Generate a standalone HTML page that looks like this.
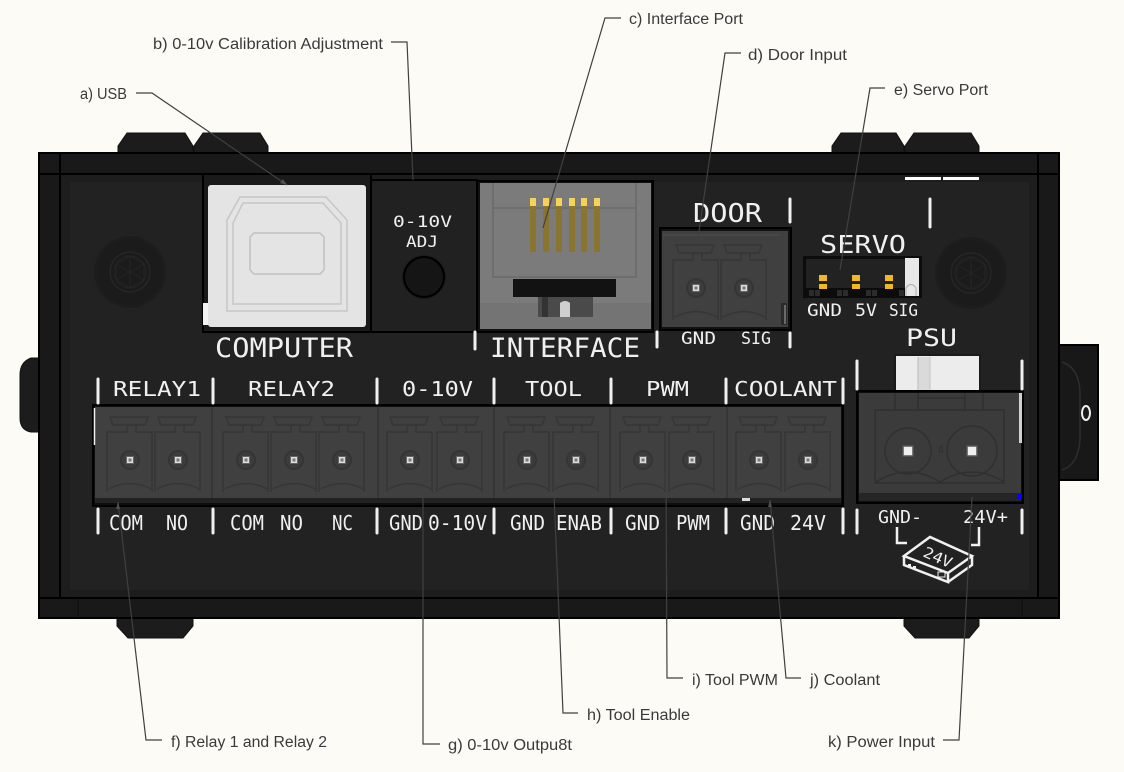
<!DOCTYPE html>
<html><head><meta charset="utf-8">
<style>
html,body{margin:0;padding:0;background:#fdfbf6;}
svg{display:block;}
.lbl{font-family:"Liberation Sans",sans-serif;font-size:15.5px;fill:#3a3a3a;}
.w{font-family:"DejaVu Sans Mono","Liberation Mono",monospace;fill:#f0f0f0;}
</style></head><body>
<svg width="1124" height="772" viewBox="0 0 1124 772" xmlns="http://www.w3.org/2000/svg">
<defs>
<g id="t">
 <g fill="none" stroke="#363636" stroke-width="1.5">
  <path d="M-20,-43 H18 L15,-35 H-17 Z"/>
  <path d="M-3,-35 V-28 H-23 V32 M6,-35 V-28 H22 V32"/>
  <path d="M-21,29 Q0,18 21,29"/>
 </g>
 <circle r="9" fill="#3c3c3c" stroke="#353535" stroke-width="2"/>
 <rect x="-3.5" y="-3.5" width="7" height="7" fill="#dcdcdc" stroke="#666" stroke-width="1"/>
 <rect x="-1.5" y="-1.5" width="3" height="3" fill="#777"/>
</g>
<g id="scr">
 <circle r="36" fill="#1d1d1d"/>
 <circle r="33" fill="#1b1b1b"/>
 <circle r="20" fill="none" stroke="#262626" stroke-width="1.5"/>
 <circle r="16" fill="none" stroke="#242424" stroke-width="1"/>
 <path d="M0,-16 L14,-8 L14,8 L0,16 L-14,8 L-14,-8 Z M0,-16 V16 M-14,-8 L14,8 M14,-8 L-14,8" fill="none" stroke="#252525" stroke-width="1"/>
</g>
</defs>
<rect width="1124" height="772" fill="#fdfbf6"/>

<!-- feet -->
<g fill="#1c1c1c" stroke="#111" stroke-width="1">
<path d="M118,154 V146 L127,133 H185 L193,146 V154 Z"/>
<path d="M194,154 V146 L203,133 H260 L268,146 V154 Z"/>
<path d="M832,154 V146 L841,133 H896 L904,146 V154 Z"/>
<path d="M905,154 V146 L914,133 H971 L979,146 V154 Z"/>
<path d="M117,617 V626 L128,638 H183 L193,626 V617 Z"/>
<path d="M904,617 V626 L915,638 H969 L979,626 V617 Z"/>
<path d="M40,358 H31 Q20,362 20,375 V418 Q20,430 31,432 H40 Z"/>
</g>
<rect x="1058" y="345" width="40" height="135" fill="#181818" stroke="#000" stroke-width="2"/>
<path d="M1062,362 Q1080,368 1080,395 V440 Q1078,465 1062,470" fill="none" stroke="#2e2e2e" stroke-width="1.5"/>
<ellipse cx="1086" cy="413" rx="4" ry="7" fill="none" stroke="#f0f0f0" stroke-width="2"/>

<!-- body -->
<rect x="39" y="153" width="1020" height="465" fill="#191919" stroke="#000" stroke-width="2"/>
<rect x="61" y="175" width="976" height="422" fill="#1d1d1d"/>
<rect x="70" y="182" width="959" height="408" fill="#222"/>
<g stroke="#000" stroke-width="2">
<line x1="39" y1="174" x2="1059" y2="174"/>
<line x1="60" y1="153" x2="60" y2="598"/>
<line x1="1038" y1="153" x2="1038" y2="598"/>
<line x1="39" y1="598" x2="1059" y2="598"/>
</g>
<line x1="78" y1="598" x2="78" y2="618" stroke="#0a0a0a" stroke-width="1"/>
<line x1="1022" y1="598" x2="1022" y2="618" stroke="#0a0a0a" stroke-width="1"/>
<rect x="905" y="177" width="36" height="3" fill="#fff"/>
<rect x="943" y="177" width="36" height="3" fill="#fff"/>

<use href="#scr" x="130" y="272"/>
<use href="#scr" x="971" y="273"/>

<!-- USB -->
<rect x="203" y="174" width="168" height="158" fill="#1a1a1a" stroke="#000" stroke-width="2"/>
<rect x="203" y="303" width="6" height="22" fill="#f4f4f4"/>
<rect x="208" y="185" width="158" height="142" rx="3" fill="#e4e4e4"/>
<path d="M240,197 H326 L347,220 V311 H227 V220 Z" fill="none" stroke="#c6c6c6" stroke-width="1.5"/>
<path d="M243,203 H323 L341,223 V304 H233 V223 Z" fill="none" stroke="#c6c6c6" stroke-width="1.5"/>
<path d="M254,233 H320 L324,237 V270 L320,274 H254 L250,270 V237 Z" fill="none" stroke="#c0c0c0" stroke-width="1.5"/>
<text class="w" x="215" y="357" font-size="27" textLength="138" lengthAdjust="spacingAndGlyphs">COMPUTER</text>

<!-- ADJ -->
<rect x="371" y="180" width="106" height="152" fill="#212121" stroke="#000" stroke-width="2"/>
<text class="w" x="393" y="227" font-size="16" textLength="59" lengthAdjust="spacingAndGlyphs">0-10V</text>
<text class="w" x="406" y="247" font-size="16" textLength="32" lengthAdjust="spacingAndGlyphs">ADJ</text>
<circle cx="424" cy="277" r="22" fill="#1a1a1a"/>
<circle cx="424" cy="277" r="20" fill="#151515" stroke="#000" stroke-width="2"/>

<!-- INTERFACE -->
<rect x="477" y="181" width="176" height="151" fill="#111" stroke="#000" stroke-width="2"/>
<rect x="480" y="183" width="171" height="146" fill="#7b7b7b"/>
<rect x="480" y="303" width="171" height="26" fill="#747474"/>
<g stroke="#6a6a6a" stroke-width="1.5" fill="none">
<path d="M493,183 V277 H636 V183"/>
<line x1="493" y1="208" x2="636" y2="208"/>
</g>
<g>
<rect x="530" y="206" width="6" height="46" fill="#8a7530"/><rect x="530" y="198" width="6" height="8" fill="#f5d35a"/>
<rect x="543" y="206" width="6" height="46" fill="#8a7530"/><rect x="543" y="198" width="6" height="8" fill="#f5d35a"/>
<rect x="556" y="206" width="6" height="46" fill="#8a7530"/><rect x="556" y="198" width="6" height="8" fill="#f5d35a"/>
<rect x="569" y="206" width="6" height="46" fill="#8a7530"/><rect x="569" y="198" width="6" height="8" fill="#f5d35a"/>
<rect x="581" y="206" width="6" height="46" fill="#8a7530"/><rect x="581" y="198" width="6" height="8" fill="#f5d35a"/>
<rect x="594" y="206" width="6" height="46" fill="#8a7530"/><rect x="594" y="198" width="6" height="8" fill="#f5d35a"/>
</g>
<rect x="513" y="279" width="103" height="18" fill="#121212"/>
<rect x="538" y="297" width="55" height="20" fill="#4a4a4a"/>
<rect x="542" y="297" width="6" height="20" fill="#333"/>
<path d="M560,317 V303 Q565,299 570,303 V317 Z" fill="#cfcfcf"/>
<text class="w" x="490" y="357" font-size="27" textLength="150" lengthAdjust="spacingAndGlyphs">INTERFACE</text>

<!-- DOOR -->
<text class="w" x="693" y="222" font-size="26" textLength="69" lengthAdjust="spacingAndGlyphs">DOOR</text>
<rect x="660" y="228" width="131" height="102" fill="#111" stroke="#000" stroke-width="2"/>
<rect x="662" y="231" width="126" height="96" fill="#404040"/>
<line x1="663" y1="235" x2="780" y2="235" stroke="#4a4a4a" stroke-width="1.5"/>
<rect x="781" y="303" width="6" height="22" fill="#2a2a2a"/>
<line x1="785" y1="305" x2="785" y2="324" stroke="#aaa" stroke-width="1"/>
<use href="#t" x="696" y="288"/>
<use href="#t" x="744" y="288"/>
<text class="w" x="681" y="344" font-size="17" textLength="35" lengthAdjust="spacingAndGlyphs">GND</text>
<text class="w" x="741" y="344" font-size="17" textLength="30" lengthAdjust="spacingAndGlyphs">SIG</text>

<!-- SERVO -->
<text class="w" x="820" y="253" font-size="25" textLength="86" lengthAdjust="spacingAndGlyphs">SERVO</text>
<rect x="803" y="256" width="119" height="42" fill="#0c0c0c"/>
<rect x="806" y="259" width="113" height="29" fill="#222"/>
<g fill="#2c2c2c">
<rect x="809" y="290" width="5" height="6"/><rect x="815" y="290" width="5" height="6"/>
<rect x="837" y="290" width="5" height="6"/><rect x="843" y="290" width="5" height="6"/>
<rect x="866" y="290" width="5" height="6"/><rect x="872" y="290" width="5" height="6"/>
<rect x="899" y="290" width="5" height="6"/>
</g>
<g fill="#f2b824">
<rect x="819" y="275" width="8" height="6"/><rect x="819" y="284" width="8" height="5"/>
<rect x="852" y="275" width="8" height="6"/><rect x="852" y="284" width="8" height="5"/>
<rect x="885" y="275" width="8" height="6"/><rect x="885" y="284" width="8" height="5"/>
</g>
<rect x="905" y="258" width="14" height="38" fill="#e8e8e8"/>
<path d="M906,296 V288 Q911,281 916,288 V296" fill="none" stroke="#aaa" stroke-width="1"/>
<text class="w" x="807" y="316" font-size="17" textLength="35" lengthAdjust="spacingAndGlyphs">GND</text>
<text class="w" x="855" y="316" font-size="17" textLength="22" lengthAdjust="spacingAndGlyphs">5V</text>
<text class="w" x="889" y="316" font-size="17" textLength="29" lengthAdjust="spacingAndGlyphs">SIG</text>

<!-- PSU -->
<text class="w" x="906" y="346" font-size="24" textLength="51" lengthAdjust="spacingAndGlyphs">PSU</text>
<rect x="895" y="355" width="85" height="37" fill="#ececec" stroke="#1a1a1a" stroke-width="2"/>
<rect x="918" y="357" width="12" height="33" fill="#dadada"/>
<line x1="918" y1="357" x2="918" y2="390" stroke="#bbb" stroke-width="1"/>
<line x1="930" y1="357" x2="930" y2="390" stroke="#c4c4c4" stroke-width="1"/>
<rect x="857" y="391" width="166" height="112" fill="#0e0e0e" stroke="#000" stroke-width="2"/>
<rect x="859" y="393" width="162" height="100" fill="#3b3b3b"/>
<rect x="859" y="493" width="162" height="8" fill="#262626"/>
<rect x="1019" y="393" width="3" height="50" fill="#d0d0d0"/>
<rect x="1018" y="494" width="4" height="5" fill="#0000ff"/>
<g fill="none" stroke="#303030" stroke-width="1.5">
<path d="M895,393 V410 M918,393 V410 M965,393 V410 M983,393 V410 M918,398 H965 M918,410 H965"/>
<rect x="875" y="410" width="129" height="73"/>
<circle cx="908" cy="451" r="23"/>
<circle cx="972" cy="451" r="25"/>
<path d="M876,482 Q908,462 940,482 Q972,462 1004,482"/>
</g>
<path d="M939,452 l2,-6 l2,6 z" fill="none" stroke="#303030"/>
<rect x="903" y="446" width="10" height="10" fill="#eee" stroke="#555" stroke-width="1.5"/>
<rect x="967" y="446" width="10" height="10" fill="#eee" stroke="#555" stroke-width="1.5"/>
<text class="w" x="878" y="523" font-size="18" textLength="44" lengthAdjust="spacingAndGlyphs">GND-</text>
<text class="w" x="963" y="523" font-size="18" textLength="45" lengthAdjust="spacingAndGlyphs">24V+</text>
<g fill="none" stroke="#f0f0f0" stroke-width="2.5">
<path d="M897,527 V543 H907"/>
<path d="M979,527 V545 H971"/>
<path d="M904,556 L930,537 L972,556 L948,573 Z"/>
<path d="M904,556 V565 L948,582 V573 M948,582 L972,565 V556"/>
</g>
<text class="w" x="0" y="0" font-size="15" transform="translate(922,556) rotate(24)" textLength="30" lengthAdjust="spacingAndGlyphs">24V</text>
<rect x="908" y="564" width="3" height="3" fill="#f0f0f0"/><rect x="913" y="566" width="3" height="3" fill="#f0f0f0"/>
<rect x="938" y="572" width="7" height="5" fill="none" stroke="#f0f0f0" stroke-width="1"/>

<!-- main terminal strip -->
<rect x="93" y="405" width="750" height="101" fill="#0e0e0e" stroke="#000" stroke-width="2"/>
<rect x="95" y="407" width="746" height="91" fill="#404040"/>
<rect x="95" y="498" width="746" height="5" fill="#222"/>
<line x1="94.5" y1="408" x2="94.5" y2="445" stroke="#f0f0f0" stroke-width="1.5"/>
<g stroke="#363636" stroke-width="2">
<line x1="212" y1="407" x2="212" y2="498"/>
<line x1="378" y1="407" x2="378" y2="498"/>
<line x1="494" y1="407" x2="494" y2="498"/>
<line x1="610" y1="407" x2="610" y2="498"/>
<line x1="727" y1="407" x2="727" y2="498"/>
</g>
<use href="#t" x="130" y="460"/>
<use href="#t" x="178" y="460"/>
<use href="#t" x="246" y="460"/>
<use href="#t" x="294" y="460"/>
<use href="#t" x="342" y="460"/>
<use href="#t" x="410" y="460"/>
<use href="#t" x="460" y="460"/>
<use href="#t" x="527" y="460"/>
<use href="#t" x="576" y="460"/>
<use href="#t" x="643" y="460"/>
<use href="#t" x="692" y="460"/>
<use href="#t" x="759" y="460"/>
<use href="#t" x="808" y="460"/>
<rect x="742" y="498" width="8" height="3" fill="#ddd"/>

<!-- white separator bars -->
<g stroke="#f0f0f0" stroke-width="3" stroke-linecap="round">
<line x1="98" y1="379" x2="98" y2="403"/>
<line x1="213" y1="379" x2="213" y2="403"/>
<line x1="377" y1="379" x2="377" y2="403"/>
<line x1="494" y1="379" x2="494" y2="403"/>
<line x1="611" y1="379" x2="611" y2="403"/>
<line x1="726" y1="379" x2="726" y2="403"/>
<line x1="843" y1="379" x2="843" y2="403"/>
<line x1="857" y1="361" x2="857" y2="389"/>
<line x1="1022" y1="361" x2="1022" y2="389"/>
<line x1="98" y1="509" x2="98" y2="533"/>
<line x1="213" y1="509" x2="213" y2="533"/>
<line x1="377" y1="509" x2="377" y2="533"/>
<line x1="494" y1="509" x2="494" y2="533"/>
<line x1="611" y1="509" x2="611" y2="533"/>
<line x1="726" y1="509" x2="726" y2="533"/>
<line x1="843" y1="509" x2="843" y2="533"/>
<line x1="857" y1="510" x2="857" y2="533"/>
<line x1="1022" y1="510" x2="1022" y2="533"/>
<line x1="475" y1="332" x2="475" y2="349"/>
<line x1="657" y1="332" x2="657" y2="347"/>
<line x1="790" y1="199" x2="790" y2="222"/>
<line x1="790" y1="333" x2="790" y2="347"/>
<line x1="930" y1="199" x2="930" y2="227"/>
</g>

<!-- strip labels -->
<g class="w" font-size="20">
<text x="113" y="396" textLength="88" lengthAdjust="spacingAndGlyphs">RELAY1</text>
<text x="248" y="396" textLength="87" lengthAdjust="spacingAndGlyphs">RELAY2</text>
<text x="402" y="396" textLength="71" lengthAdjust="spacingAndGlyphs">0-10V</text>
<text x="525" y="396" textLength="57" lengthAdjust="spacingAndGlyphs">TOOL</text>
<text x="646" y="396" textLength="43" lengthAdjust="spacingAndGlyphs">PWM</text>
<text x="734" y="396" textLength="103" lengthAdjust="spacingAndGlyphs">COOLANT</text>
<text x="109" y="530" textLength="34" lengthAdjust="spacingAndGlyphs">COM</text>
<text x="166" y="530" textLength="22" lengthAdjust="spacingAndGlyphs">NO</text>
<text x="230" y="530" textLength="34" lengthAdjust="spacingAndGlyphs">COM</text>
<text x="280" y="530" textLength="23" lengthAdjust="spacingAndGlyphs">NO</text>
<text x="332" y="530" textLength="21" lengthAdjust="spacingAndGlyphs">NC</text>
<text x="389" y="530" textLength="34" lengthAdjust="spacingAndGlyphs">GND</text>
<text x="428" y="530" textLength="59" lengthAdjust="spacingAndGlyphs">0-10V</text>
<text x="510" y="530" textLength="35" lengthAdjust="spacingAndGlyphs">GND</text>
<text x="556" y="530" textLength="46" lengthAdjust="spacingAndGlyphs">ENAB</text>
<text x="625" y="530" textLength="35" lengthAdjust="spacingAndGlyphs">GND</text>
<text x="676" y="530" textLength="34" lengthAdjust="spacingAndGlyphs">PWM</text>
<text x="740" y="530" textLength="35" lengthAdjust="spacingAndGlyphs">GND</text>
<text x="790" y="530" textLength="36" lengthAdjust="spacingAndGlyphs">24V</text>
</g>

<!-- leader lines -->
<g fill="none" stroke="#404040" stroke-width="1.2">
<polyline points="136,93 152,93 287,185"/>
<polyline points="391,42 407,42 413,180"/>
<polyline points="621,18 605,18 543,228"/>
<polyline points="741,53 725,53 697,245"/>
<polyline points="885,88 870,88 840,270"/>
<polyline points="162,740 146,740 118,502"/>
<polyline points="440,744 423,744 423,490"/>
<polyline points="578,713 563,713 554,493"/>
<polyline points="683,678 667,678 666,470"/>
<polyline points="801,678 786,678 770,500"/>
<polyline points="943,740 959,740 972,497"/>
</g>
<g fill="#505050">
<path d="M287,185 l-7,-2 l3,-4 z"/>
<path d="M118,502 l-2,7 l4,0 z"/>
<path d="M770,500 l-2,7 l4,0 z"/>
</g>

<!-- labels -->
<text class="lbl" x="80" y="99" textLength="47" lengthAdjust="spacingAndGlyphs">a) USB</text>
<text class="lbl" x="153" y="49" textLength="230" lengthAdjust="spacingAndGlyphs">b) 0-10v Calibration Adjustment</text>
<text class="lbl" x="629" y="24" textLength="114" lengthAdjust="spacingAndGlyphs">c) Interface Port</text>
<text class="lbl" x="748" y="60" textLength="99" lengthAdjust="spacingAndGlyphs">d) Door Input</text>
<text class="lbl" x="894" y="95" textLength="94" lengthAdjust="spacingAndGlyphs">e) Servo Port</text>
<text class="lbl" x="171" y="747" textLength="156" lengthAdjust="spacingAndGlyphs">f) Relay 1 and Relay 2</text>
<text class="lbl" x="448" y="750" textLength="124" lengthAdjust="spacingAndGlyphs">g) 0-10v Outpu8t</text>
<text class="lbl" x="587" y="720" textLength="103" lengthAdjust="spacingAndGlyphs">h) Tool Enable</text>
<text class="lbl" x="692" y="685" textLength="86" lengthAdjust="spacingAndGlyphs">i) Tool PWM</text>
<text class="lbl" x="810" y="685" textLength="70" lengthAdjust="spacingAndGlyphs">j) Coolant</text>
<text class="lbl" x="828" y="747" textLength="107" lengthAdjust="spacingAndGlyphs">k) Power Input</text>
</svg>
</body></html>
